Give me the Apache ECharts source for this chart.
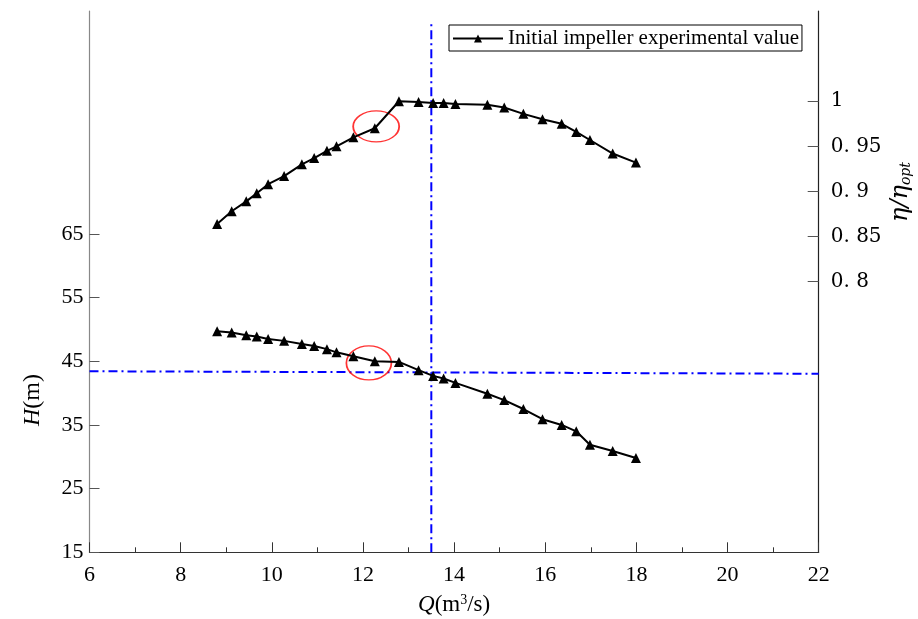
<!DOCTYPE html>
<html><head><meta charset="utf-8">
<script src="https://cdn.jsdelivr.net/npm/echarts@6/dist/echarts.min.js"></script>
<style>html,body{margin:0;padding:0;background:#fff}#c{width:918px;height:619px}</style>
</head><body><div id="c"></div>
<script>
// ---- data ----
const flowQ = [8.80, 9.12, 9.44, 9.67, 9.92, 10.27, 10.66, 10.93, 11.21, 11.42, 11.79, 12.26, 12.79,
  13.22, 13.54, 13.77, 14.03, 14.73, 15.10, 15.52, 15.94, 16.36, 16.68, 16.98, 17.48, 17.99];
const effRatio = [0.864, 0.878, 0.889, 0.898, 0.908, 0.917, 0.930, 0.937, 0.945, 0.950, 0.960, 0.970, 1.000,
  0.999, 0.998, 0.998, 0.997, 0.996, 0.993, 0.986, 0.980, 0.975, 0.966, 0.957, 0.942, 0.932];
const headH = [49.7, 49.5, 49.1, 48.9, 48.5, 48.2, 47.7, 47.4, 46.9, 46.4, 45.8, 45.0, 44.9,
  43.6, 42.7, 42.3, 41.6, 39.9, 38.9, 37.5, 35.9, 35.0, 34.0, 31.9, 30.9, 29.8];
const headTicks = [15, 25, 35, 45, 55, 65];
const effTicks = [0.8, 0.85, 0.9, 0.95, 1];
const guideHQ = [6, 22];
const guideHH = [43.43, 43.04];
const guideVQ = [13.5, 13.5];
const guideVH = [15, 98.2];
const circleEff = [[12.29, 0.972]];
const circleHead = [[12.13, 44.73]];
const seriesName = 'Initial impeller experimental value';

const serif = 'Liberation Serif';
const chart = echarts.init(document.getElementById('c'), null, {renderer: 'canvas'});
const blueDash = {color: '#0000ff', width: 2, type: [9, 4, 2, 4]};

chart.setOption({
  animation: false,
  backgroundColor: '#fff',
  grid: {left: 89.5, right: 99.3, top: 11, bottom: 66.7, containLabel: false, outerBoundsMode: 'none'},
  legend: {
    data: [seriesName], left: 449, top: 25, padding: [3, 3, 2, 3],
    borderColor: '#000', borderWidth: 1, itemWidth: 50, itemHeight: 10, itemGap: 4,
    textStyle: {fontFamily: serif, fontSize: 21, color: '#000'}
  },
  xAxis: {
    type: 'value', min: 6, max: 22, interval: 2,
    axisLine: {lineStyle: {color: '#333', width: 1.2}},
    axisTick: {inside: true, length: 10, lineStyle: {color: '#333'}},
    minorTick: {show: true, splitNumber: 2, length: 5, lineStyle: {color: '#333'}},
    splitLine: {show: false},
    axisLabel: {fontFamily: serif, fontSize: 22, color: '#000', margin: 12},
    name: '{q|Q}(m{s|3}/s)', nameLocation: 'middle', nameGap: 41,
    nameTextStyle: {fontFamily: serif, fontSize: 23, color: '#000',
      rich: {q: {fontFamily: serif, fontSize: 23, fontStyle: 'italic', color: '#000'},
             s: {fontFamily: serif, fontSize: 14, verticalAlign: 'top', color: '#000'}}}
  },
  yAxis: [
    {
      type: 'value', min: 15, max: 100, interval: 10, position: 'left',
      axisLine: {show: true, lineStyle: {color: '#888', width: 1.2}},
      axisTick: {show: true, inside: true, length: 10, customValues: headTicks, lineStyle: {color: '#555'}},
      axisLabel: {customValues: headTicks, fontFamily: serif, fontSize: 22, color: '#000', margin: 6},
      splitLine: {show: false}
    },
    {
      type: 'value', min: 0.5, max: 1.1, interval: 0.05, position: 'right',
      axisLine: {show: true, lineStyle: {color: '#222', width: 1.2}},
      axisTick: {show: true, inside: true, length: 11, customValues: effTicks, lineStyle: {color: '#555'}},
      axisLabel: {customValues: effTicks, fontFamily: 'DejaVu Serif', fontSize: 20, color: '#000', margin: 12,
        formatter: v => (Math.round(v * 100) / 100).toString().replace('.', '. ')},
      splitLine: {show: false}
    }
  ],
  series: [
    {
      name: seriesName, type: 'line', yAxisIndex: 1,
      data: flowQ.map((q, i) => [q, effRatio[i]]),
      symbol: 'triangle', symbolSize: 10, showSymbol: true,
      lineStyle: {color: '#000', width: 2}, itemStyle: {color: '#000'}
    },
    {
      name: seriesName, type: 'line', yAxisIndex: 0,
      data: flowQ.map((q, i) => [q, headH[i]]),
      symbol: 'triangle', symbolSize: 10,
      lineStyle: {color: '#000', width: 2}, itemStyle: {color: '#000'}
    },
    {
      name: 'guideH', type: 'line', yAxisIndex: 0, symbol: 'none',
      data: guideHQ.map((q, i) => [q, guideHH[i]]), lineStyle: blueDash, z: 1
    },
    {
      name: 'guideV', type: 'line', yAxisIndex: 0, symbol: 'none',
      data: guideVQ.map((q, i) => [q, guideVH[i]]), lineStyle: blueDash, z: 1
    },
    {
      name: 'circleE', type: 'scatter', yAxisIndex: 1, data: circleEff,
      symbol: 'circle', symbolSize: [46, 31],
      itemStyle: {color: 'rgba(0,0,0,0)', borderColor: '#ff0000', borderWidth: 1.5}
    },
    {
      name: 'circleH', type: 'scatter', yAxisIndex: 0, data: circleHead,
      symbol: 'circle', symbolSize: [45, 34],
      itemStyle: {color: 'rgba(0,0,0,0)', borderColor: '#ff0000', borderWidth: 1.5}
    }
  ],
  graphic: [
    {
      type: 'text', x: 33, y: 400, rotation: Math.PI / 2,
      style: {
        text: '{i|H}(m)', fontFamily: serif, fontSize: 24, fill: '#000',
        align: 'center', verticalAlign: 'middle',
        rich: {i: {fontFamily: serif, fontSize: 24, fontStyle: 'italic', fill: '#000'}}
      }
    },
    {
      type: 'text', x: 901, y: 192, rotation: Math.PI / 2,
      style: {
        text: '{e|η/η}{o|opt}', fontFamily: serif, fontSize: 24, fill: '#000',
        align: 'center', verticalAlign: 'middle',
        rich: {
          e: {fontFamily: 'DejaVu Serif', fontSize: 24, fontStyle: 'italic', fill: '#000'},
          o: {fontFamily: 'DejaVu Serif', fontSize: 14, fontStyle: 'italic', fill: '#000', verticalAlign: 'bottom'}
        }
      }
    }
  ]
});
</script></body></html>
